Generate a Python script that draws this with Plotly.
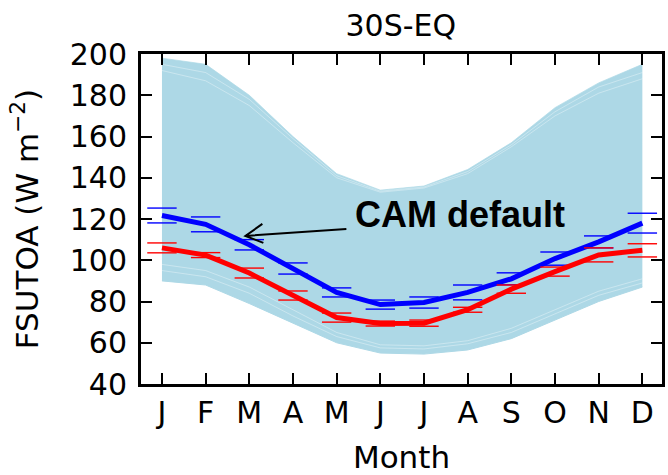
import plotly.graph_objects as go

months = list(range(1, 13))
month_labels = ["J", "F", "M", "A", "M", "J", "J", "A", "S", "O", "N", "D"]

# Ensemble envelope (light blue band)
band_upper = [198, 195, 180, 160, 142, 134, 136, 144, 157, 174, 186, 195]
band_lower = [90, 88, 79, 69.5, 60, 55, 54.5, 56.5, 62, 71, 80, 87]
# a few faint member lines near the band edges
member_hi1 = [192, 187, 175, 157, 140, 133, 135, 142, 155, 170, 181, 188]
member_hi2 = [195, 191, 178, 159, 141, 133.5, 135.5, 143, 156, 172, 184, 191]
member_lo1 = [98, 95, 87, 76, 65, 59, 58.5, 61, 67, 76, 85, 91]
member_lo2 = [95, 92, 84, 73, 63, 57.5, 57, 59.5, 65, 74, 83, 89]

# CAM default (blue) and optimized (red) with error bars
blue = [121.7, 117.4, 107.5, 96, 84.4, 78.5, 79.5, 84.4, 91, 100.8, 108.9, 118]
blue_err = [3.6, 3.6, 2.5, 2.7, 2.2, 2.2, 2.7, 3.6, 2.9, 3.2, 2.9, 4.8]
red = [106, 102.5, 93.8, 82.9, 72.2, 69.3, 69.5, 76, 86, 94.5, 102.6, 104.8]
red_err = [2.4, 1.2, 2.4, 2.2, 2.2, 1.2, 1.5, 1.2, 2.0, 2.2, 3.4, 3.2]

LB = "#ADD8E6"
fig = go.Figure()

fig.add_trace(go.Scatter(x=months, y=band_lower, mode="lines",
                         line=dict(color=LB, width=1), showlegend=False, hoverinfo="skip"))
fig.add_trace(go.Scatter(x=months, y=band_upper, mode="lines", fill="tonexty",
                         fillcolor=LB, line=dict(color="rgba(173,216,230,0.7)", width=1),
                         showlegend=False, hoverinfo="skip"))
for m in [member_hi1, member_hi2, member_lo1, member_lo2]:
    fig.add_trace(go.Scatter(x=months, y=m, mode="lines",
                             line=dict(color="rgba(255,255,255,0.35)", width=1),
                             showlegend=False, hoverinfo="skip"))


def caps(vals, errs):
    xs, ys = [], []
    for x, v, e in zip(months, vals, errs):
        xs += [x, x]
        ys += [v + e, v - e]
    return xs, ys


for vals, errs, col in [(blue, blue_err, "#0000FF"), (red, red_err, "#FF0000")]:
    cx, cy = caps(vals, errs)
    fig.add_trace(go.Scatter(x=cx, y=cy, mode="markers",
                             marker=dict(symbol="line-ew", size=21,
                                         line=dict(color=col, width=1.4)),
                             showlegend=False, hoverinfo="skip"))
    fig.add_trace(go.Scatter(x=months, y=vals, mode="lines",
                             line=dict(color=col, width=5), showlegend=False))

# annotation text + open arrow (pixel-sized path anchored at the arrow tip)
fig.add_annotation(x=7.83, y=122.4, xref="x", yref="y", text="<b>CAM default</b>",
                   showarrow=False, font=dict(family="Liberation Sans, Arial", size=36, color="black"))
head_x, head_y = 2.91, 111.8
fig.add_shape(type="path", xref="x", yref="y", xsizemode="pixel", ysizemode="pixel",
              xanchor=head_x, yanchor=head_y,
              path="M 101 7 L 0 0 M 17 12 L 0 0 L 18 -7",
              line=dict(color="black", width=2))

font_main = "DejaVu Sans"
fig.update_layout(
    width=668, height=475,
    margin=dict(l=141, r=3, t=54, b=91),
    plot_bgcolor="white", paper_bgcolor="white",
    font=dict(family=font_main, color="black"),
    title=dict(text="30S-EQ", x=0.6, xanchor="center", y=0.947, yanchor="middle",
               font=dict(family=font_main, size=30, color="black")),
    xaxis=dict(range=[0.52, 12.45], tickmode="array", tickvals=months, ticktext=month_labels,
               showline=True, linecolor="black", linewidth=3, mirror="ticks",
               ticks="inside", ticklen=11, tickwidth=2, tickcolor="black",
               showgrid=False, zeroline=False,
               tickfont=dict(family=font_main, size=30, color="black"),
               title=dict(text="Month", font=dict(family=font_main, size=31, color="black"), standoff=19)),
    yaxis=dict(range=[40, 200], tickmode="array", tickvals=list(range(40, 201, 20)),
               showline=True, linecolor="black", linewidth=3, mirror="ticks",
               ticks="inside", ticklen=11, tickwidth=2, tickcolor="black",
               showgrid=False, zeroline=False, ticklabelstandoff=5,
               tickfont=dict(family=font_main, size=30, color="black"),
               title=dict(text="FSUTOA (W m<sup>−2</sup>)",
                          font=dict(family=font_main, size=31, color="black"), standoff=22)),
)

fig.write_html("out.html")
